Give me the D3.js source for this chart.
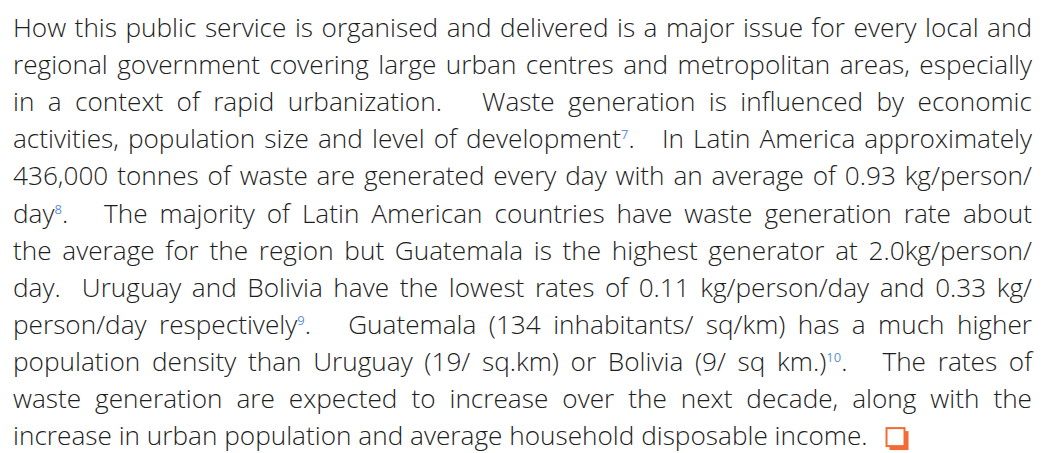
<!DOCTYPE html>
<html>
<head>
<meta charset="utf-8">
<script src="https://cdn.jsdelivr.net/npm/d3@7"></script>
<style>
  html, body { margin: 0; padding: 0; background: #fff; }
  svg { display: block; }
</style>
</head>
<body>
<div id="page"></div>
<script>
// paragraph lines, as laid out in the source (footnote marks in {})
const lines = [
    "How this public service is organised and delivered is a major issue for every local and",
    "regional government covering large urban centres and metropolitan areas, especially",
    "in a context of rapid urbanization.   Waste generation is influenced by economic",
    "activities, population size and level of development{7}.   In Latin America approximately",
    "436,000 tonnes of waste are generated every day with an average of 0.93 kg/person/",
    "day{8}.   The majority of Latin American countries have waste generation rate about",
    "the average for the region but Guatemala is the highest generator at 2.0kg/person/",
    "day.  Uruguay and Bolivia have the lowest rates of 0.11 kg/person/day and 0.33 kg/",
    "person/day respectively{9}.   Guatemala (134 inhabitants/ sq/km) has a much higher",
    "population density than Uruguay (19/ sq.km) or Bolivia (9/ sq km.){10}.   The rates of",
    "waste generation are expected to increase over the next decade, along with the",
    "increase in urban population and average household disposable income."
];
// last line is left aligned, every other one is justified
const justified = lines.map((d, i) => i < lines.length - 1);

const W = 1048, H = 453;
const left = 13, right = 1032;
const firstBase = 37, lineGap = 37.1;
const noteRise = 9;

const svg = d3.select("#page").append("svg")
    .attr("width", W)
    .attr("height", H);

const y = d3.scaleLinear()
    .domain([0, lines.length - 1])
    .range([firstBase, firstBase + lineGap * (lines.length - 1)]);

// split a line into plain text and footnote pieces
function pieces(str) {
    const out = [];
    const re = /\{(\d+)\}/g;
    let last = 0, m;
    while ((m = re.exec(str)) !== null) {
        if (m.index > last) out.push({ text: str.slice(last, m.index), note: false });
        out.push({ text: m[1], note: true });
        last = re.lastIndex;
    }
    if (last < str.length) out.push({ text: str.slice(last), note: false });
    return out;
}

const textLines = svg.selectAll("text.line")
    .data(lines)
    .join("text")
    .attr("class", "line")
    .attr("x", left)
    .attr("y", (d, i) => y(i))
    .style("white-space", "pre")
    .style("font-family", "'Open Sans', 'Noto Sans', sans-serif")
    .style("font-weight", 300)
    .style("font-size", "26.2px")
    .attr("fill", "#1e1e1e");

textLines.each(function (d) {
    const t = d3.select(this);
    let drop = 0;
    pieces(d).forEach(p => {
        if (p.note) {
            t.append("tspan")
                .attr("dy", -noteRise)
                .style("font-size", "13px")
                .style("font-weight", 400)
                .attr("fill", "#5f92d8")
                .text(p.text);
            drop = noteRise;
        } else {
            t.append("tspan").attr("dy", drop).text(p.text);
            drop = 0;
        }
    });
});

// justify: spread the spare width over the spaces
textLines.each(function (d, i) {
    if (!justified[i]) return;
    const natural = this.getComputedTextLength();
    const spaces = (d.match(/ /g) || []).length;
    const extra = (right - left - natural) / spaces;
    d3.select(this).style("word-spacing", extra + "px");
});

// end-of-article box after the last line
const lastNode = textLines.nodes()[lines.length - 1];
const endX = left + lastNode.getComputedTextLength() + 18;
const boxY = y(lines.length - 1) - 18;
const box = svg.append("g").attr("transform", `translate(${endX},${boxY})`);
box.append("rect")
    .attr("x", 4).attr("y", 4)
    .attr("width", 19).attr("height", 19)
    .attr("fill", "#f26b35");
box.append("rect")
    .attr("x", 1).attr("y", 1)
    .attr("width", 18).attr("height", 18)
    .attr("fill", "#fff")
    .attr("stroke", "#f26b35")
    .attr("stroke-width", 2);
</script>
</body>
</html>
